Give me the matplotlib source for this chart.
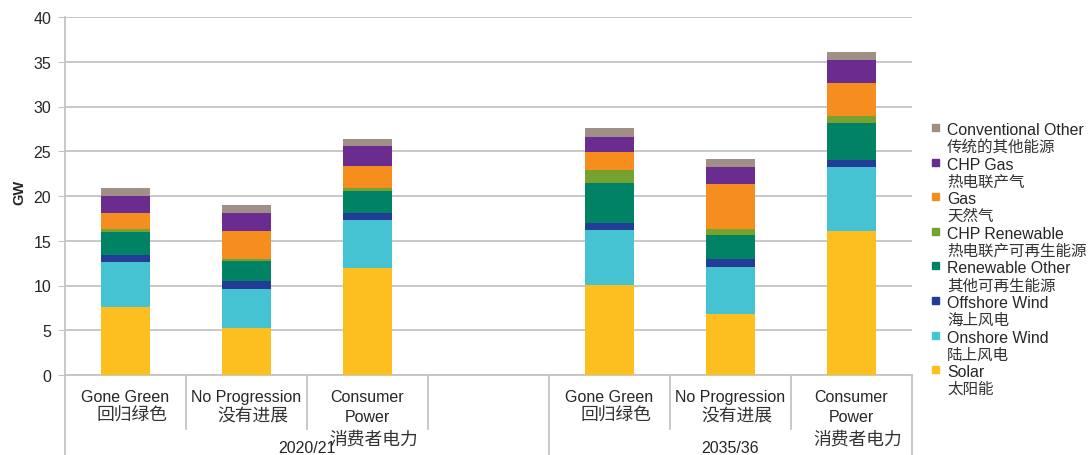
import matplotlib
matplotlib.use("Agg")
import matplotlib.pyplot as plt
from matplotlib.patches import Rectangle
from matplotlib.transforms import blended_transform_factory
import numpy as np

# --- data (GW), bottom of stack first ---
scenarios_en = ["Gone Green", "No Progression", "Consumer\nPower",
                "Gone Green", "No Progression", "Consumer\nPower"]
scenarios_cn = ["回归绿色", "没有进展", "消费者电力",
                "回归绿色", "没有进展", "消费者电力"]
years = ["2020/21", "2035/36"]

series_en = ["Solar", "Onshore Wind", "Offshore Wind", "Renewable Other",
             "CHP Renewable", "Gas", "CHP Gas", "Conventional Other"]
series_cn = ["太阳能", "陆上风电", "海上风电", "其他可再生能源",
             "热电联产可再生能源", "天然气", "热电联产气", "传统的其他能源"]
colors = ["#FDBF1F", "#46C3D2", "#233C96", "#008265",
          "#76A22F", "#F68D1F", "#6A2C8E", "#A08F86"]

solar = [7.6, 5.25, 11.9, 10.1, 6.8, 16.1]
onshore = [5.0, 4.35, 5.4, 6.05, 5.3, 7.1]
offshore = [0.8, 0.85, 0.85, 0.85, 0.85, 0.85]
ren_other = [2.6, 2.25, 2.45, 4.45, 2.7, 4.15]
chp_ren = [0.3, 0.25, 0.3, 1.4, 0.65, 0.7]
gas = [1.75, 3.1, 2.45, 2.05, 5.05, 3.75]
chp_gas = [1.9, 2.0, 2.25, 1.7, 1.85, 2.55]
conv_other = [0.9, 0.95, 0.8, 0.95, 0.95, 0.9]
values = [solar, onshore, offshore, ren_other, chp_ren, gas, chp_gas, conv_other]

# category slots: 3 scenarios, an empty slot, 3 scenarios
xpos = [0, 1, 2, 4, 5, 6]

LATIN = ["Liberation Sans", "Noto Sans CJK SC"]
CJK = ["Noto Sans CJK SC", "DejaVu Sans"]
TXT = "#262626"
CJK_COL = "#333333"

fig = plt.figure(figsize=(10.88, 4.56), dpi=100)
W, H = 1088, 456
ax = fig.add_axes([65 / W, 1 - 376 / H, 847 / W, 358 / H])

bottom = np.zeros(len(xpos))
for vals, col in zip(values, colors):
    ax.bar(xpos, vals, width=0.4, bottom=bottom, color=col, zorder=3)
    bottom += np.array(vals)

ax.set_xlim(-0.5, 6.5)
ax.set_ylim(0, 40)
ax.set_yticks(np.arange(0, 41, 5))
ax.set_xticks([])
ax.grid(axis="y", color="#C4C4C4", lw=1.3, zorder=0)
for s in ["top", "right"]:
    ax.spines[s].set_visible(False)
for s in ["left", "bottom"]:
    ax.spines[s].set_color("#C4C4C4")
    ax.spines[s].set_linewidth(1.3)
ax.tick_params(axis="y", length=5, color="#C4C4C4", pad=5, labelsize=11.5,
               labelcolor=TXT)
for lab in ax.get_yticklabels():
    lab.set_family(LATIN)

fig.text(19 / W, 1 - 192 / H, "GW", rotation=90, ha="center", va="center",
         fontsize=10.5, fontweight="bold", family=LATIN, color=TXT)

# category separators below the axis
tr = blended_transform_factory(ax.transData, fig.transFigure)
y0 = 1 - 376 / H
for b in [0.5, 1.5, 2.5, 4.5, 5.5]:
    ax.plot([b, b], [y0, 1 - 430 / H], transform=tr, color="#C4C4C4",
            lw=1.3, clip_on=False)
for b in [-0.5, 3.5, 6.5]:
    ax.plot([b, b], [y0, 0], transform=tr, color="#C4C4C4",
            lw=1.3, clip_on=False)

# scenario labels
for x, en, cn in zip(xpos, scenarios_en, scenarios_cn):
    lines = en.split("\n")
    for j, ln in enumerate(lines):
        ax.text(x, 1 - (402 + 20.5 * j) / H, ln, transform=tr, ha="center",
                va="baseline", fontsize=11.5, family=LATIN, color=TXT)
    cn_base = 445 if len(lines) > 1 else 421
    ax.text(x + 0.055, 1 - cn_base / H, cn,
            transform=tr, ha="center", va="baseline", fontsize=12.8,
            family=CJK, color=CJK_COL, fontweight="light")

# year group labels
for x, yr in zip([1.5, 5], years):
    ax.text(x, 1 - 453 / H, yr, transform=tr, ha="center", va="baseline",
            fontsize=11.5, family=LATIN, color=TXT)

# legend (top entry first)
for i, k in enumerate(range(len(series_en) - 1, -1, -1)):
    base = 135 + 34.6 * i
    fig.patches.append(Rectangle((932 / W, 1 - (base - 3) / H), 7 / W, 7 / H,
                                 transform=fig.transFigure,
                                 color=colors[k], figure=fig))
    fig.text(947 / W, 1 - base / H, series_en[k], ha="left", va="baseline",
             fontsize=11.4, family=LATIN, color=TXT)
    fig.text(947 / W, 1 - (base + 17) / H, series_cn[k], ha="left",
             va="baseline", fontsize=11.2, family=CJK, color=CJK_COL,
             fontweight="light")

fig.savefig("out.png", dpi=100)
